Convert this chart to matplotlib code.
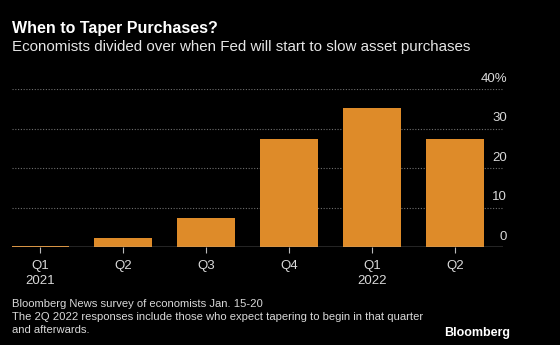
import numpy as np
import matplotlib.pyplot as plt
import matplotlib.transforms as mtransforms

plt.rcParams['font.family'] = ['Liberation Sans', 'DejaVu Sans']

# data
quarters = ["Q1\n2021", "Q2", "Q3", "Q4", "Q1\n2022", "Q2"]
share_pct = [0.2, 2.3, 7.3, 27.3, 35.2, 27.3]
y_ticks = [0, 10, 20, 30, 40]
y_labels = ["0", "10", "20", "30", "40%"]

bg = "black"
bar_col = "#de8b29"
txt_col = "#d9d9d9"
grid_col = "#6e6e6e"

fig = plt.figure(figsize=(5.6, 3.45), dpi=100, facecolor=bg)
ax = fig.add_axes([12 / 560, 1 - 247 / 345, (503 - 12) / 560, (247 - 89) / 345])
ax.set_facecolor(bg)

x = np.arange(len(quarters))
ax.bar(x, share_pct, width=0.7, color=bar_col, zorder=2)

ax.set_xlim(-0.34, len(quarters) - 1 + 0.58)
ax.set_ylim(0, 40)

# gridlines
for t in y_ticks[1:]:
    ax.axhline(t, color=grid_col, lw=0.8, ls=(0, (1, 1.5)), zorder=1)
ax.axhline(0, color="#bbbbbb", lw=1.0, zorder=3)

for s in ax.spines.values():
    s.set_visible(False)

ax.set_xticks(x)
ax.set_xticklabels(quarters, color=txt_col, fontsize=9.5, linespacing=1.35)
ax.tick_params(axis="x", length=4, width=0.8, color="#bbbbbb", pad=5)

ax.yaxis.tick_right()
ax.set_yticks(y_ticks)
ax.set_yticklabels(y_labels, color=txt_col, fontsize=9.5)
ax.tick_params(axis="y", length=0, pad=3)
off = mtransforms.ScaledTranslation(0.0, 3 / 72, fig.dpi_scale_trans)
for lab in ax.get_yticklabels():
    lab.set_horizontalalignment("right")
    lab.set_verticalalignment("bottom")
    lab.set_transform(lab.get_transform() + off)

fig.text(12 / 560, 1 - 28 / 345, "When to Taper Purchases?", color="white",
         fontsize=11.5, fontweight="bold", va="center")
fig.text(12 / 560, 1 - 47 / 345,
         "Economists divided over when Fed will start to slow asset purchases",
         color="#e6e6e6", fontsize=10.9, va="center")

foot = ("Bloomberg News survey of economists Jan. 15-20\n"
        "The 2Q 2022 responses include those who expect tapering to begin in that quarter\n"
        "and afterwards.")
fig.text(12 / 560, 1 - 299 / 345, foot, color=txt_col, fontsize=8.1,
         va="top", linespacing=1.4)
fig.text(510 / 560, 1 - 333 / 345, "Bloomberg", color="white", fontsize=9,
         fontweight="bold", ha="right", va="center")

fig.savefig("out.png", dpi=100, facecolor=bg)
